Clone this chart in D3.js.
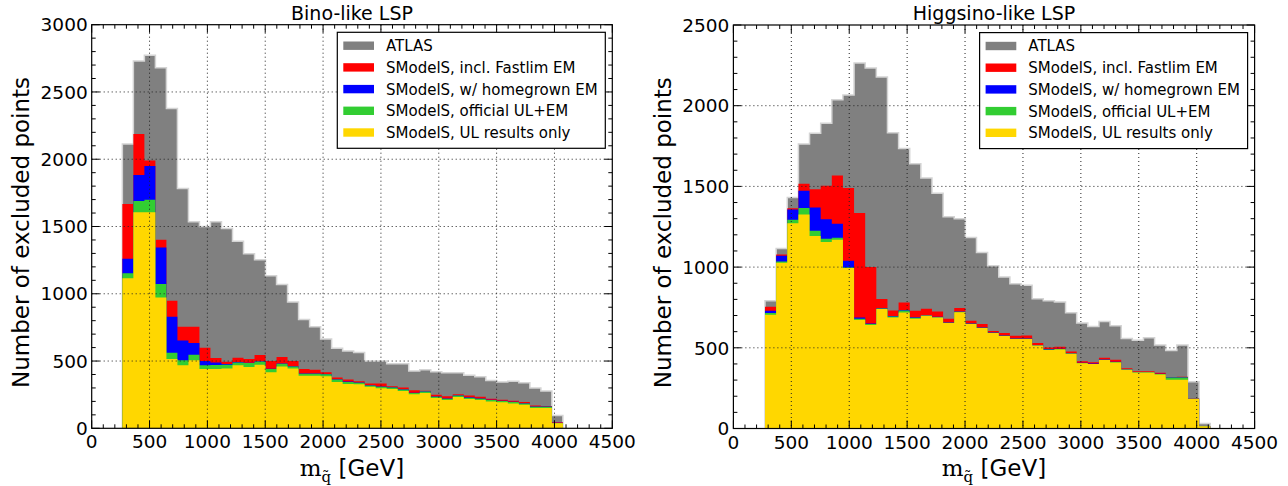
<!DOCTYPE html>
<html>
<head>
<meta charset="utf-8">
<script src="https://cdn.jsdelivr.net/npm/d3@7"></script>
<style>
  html, body { margin: 0; padding: 0; background: #fff; }
  svg { display: block; }
  text { font-family: "DejaVu Sans", sans-serif; fill: #000; }
</style>
</head>
<body>
<svg id="chart" width="1288" height="486"></svg>
<script>
// ---------------- DATA ----------------
const seriesNames = ["ATLAS", "SModelS, incl. Fastlim EM", "SModelS, w/ homegrown EM",
                     "SModelS, official UL+EM", "SModelS, UL results only"];
const xTicks = [0, 500, 1000, 1500, 2000, 2500, 3000, 3500, 4000, 4500];
const binoYTicks = [0, 500, 1000, 1500, 2000, 2500, 3000];
const higgsinoYTicks = [0, 500, 1000, 1500, 2000, 2500];

// histogram range (GeV), 40 equal bins each
const binoRange = [265, 4073];
const higgsinoRange = [273, 4117];
const nBins = 40;

// Bino-like LSP
const binoATLAS = [2114, 2730, 2772, 2680, 2378, 1782, 1535, 1500, 1535, 1485, 1391, 1297, 1252, 1134, 1069, 938, 809, 755, 663, 595,
                   575, 563, 500, 500, 480, 480, 425, 435, 420, 413, 413, 395, 383, 355, 345, 350, 338, 300, 278, 95];
const binoFastlim = [1668, 2188, 1990, 1401, 948, 755, 755, 599, 522, 495, 525, 515, 545, 500, 530, 500, 441, 436, 416, 378,
                     363, 350, 333, 333, 313, 303, 283, 280, 250, 238, 253, 243, 235, 220, 213, 205, 195, 170, 165, 45];
const binoHomegrown = [1260, 1883, 1950, 1344, 829, 653, 634, 500, 490, 478, 492, 487, 499, 443, 482, 462, 408, 408, 403, 365,
                       347, 340, 320, 310, 305, 290, 265, 275, 237, 222, 245, 230, 222, 212, 205, 197, 187, 162, 162, 42];
const binoOfficial = [1153, 1690, 1698, 1072, 562, 505, 547, 468, 470, 473, 490, 485, 497, 441, 480, 460, 406, 406, 401, 363,
                      345, 338, 318, 308, 303, 288, 263, 273, 235, 220, 243, 228, 220, 210, 203, 195, 185, 160, 160, 40];
const binoUL = [1116, 1606, 1606, 973, 515, 468, 505, 440, 440, 445, 468, 455, 473, 416, 460, 445, 391, 391, 386, 345,
                330, 328, 308, 298, 293, 278, 253, 263, 225, 210, 233, 218, 210, 200, 193, 185, 175, 150, 150, 38];

// Higgsino-like LSP
const higgsinoATLAS = [791, 1116, 1432, 1762, 1830, 1892, 2037, 2066, 2264, 2233, 2178, 1833, 1735, 1640, 1552, 1457, 1312, 1300, 1184, 1091,
                       1008, 938, 897, 888, 804, 791, 783, 717, 653, 632, 663, 636, 558, 547, 562, 517, 483, 517, 289, 31];
const higgsinoFastlim = [754, 1078, 1364, 1516, 1483, 1504, 1568, 1490, 1335, 1000, 802, 731, 781, 729, 742, 725, 680, 746, 667, 647,
                         604, 591, 574, 576, 529, 502, 506, 477, 417, 411, 438, 426, 374, 355, 355, 345, 318, 320, 188, 14];
const higgsinoHomegrown = [729, 1070, 1357, 1473, 1370, 1297, 1268, 1039, 688, 650, 745, 697, 734, 689, 702, 692, 657, 725, 651, 626,
                           595, 576, 558, 558, 517, 492, 494, 466, 408, 402, 428, 414, 367, 350, 350, 339, 317, 317, 186, 14];
const higgsinoOfficial = [715, 1035, 1293, 1366, 1225, 1176, 1182, 998, 680, 648, 743, 694, 731, 686, 700, 690, 655, 723, 649, 624,
                          593, 575, 556, 556, 515, 490, 492, 464, 406, 400, 426, 412, 366, 349, 349, 337, 316, 316, 185, 14];
const higgsinoUL = [704, 1027, 1271, 1326, 1192, 1155, 1169, 994, 673, 642, 740, 688, 719, 680, 698, 688, 653, 721, 647, 622,
                    591, 573, 554, 554, 514, 486, 490, 463, 405, 399, 424, 409, 364, 347, 347, 335, 302, 302, 184, 14];

// ---------------- STYLE / LAYOUT ----------------
const colors = ["#808080", "#ff0000", "#0000ff", "#32cd32", "#ffd700"];

const panels = [
  { title: "Bino-like LSP", range: binoRange, yMax: 3000, yTicks: binoYTicks,
    series: [binoATLAS, binoFastlim, binoHomegrown, binoOfficial, binoUL],
    left: 91.7, right: 612.3, top: 24.7, bottom: 428.3, ylabelX: 29 },
  { title: "Higgsino-like LSP", range: higgsinoRange, yMax: 2500, yTicks: higgsinoYTicks,
    series: [higgsinoATLAS, higgsinoFastlim, higgsinoHomegrown, higgsinoOfficial, higgsinoUL],
    left: 733.4, right: 1254.6, top: 25, bottom: 428.5, ylabelX: 670.5 }
];

const svg = d3.select("#chart");

panels.forEach(p => {
  const g = svg.append("g");
  const x = d3.scaleLinear().domain([0, 4500]).range([p.left, p.right]);
  const y = d3.scaleLinear().domain([0, p.yMax]).range([p.bottom, p.top]);
  const edges = d3.range(nBins + 1).map(i => p.range[0] + (p.range[1] - p.range[0]) * i / nBins);

  const clipId = "clip" + p.left.toFixed(0);
  svg.append("clipPath").attr("id", clipId).append("rect")
    .attr("x", p.left).attr("y", p.top).attr("width", p.right - p.left).attr("height", p.bottom - p.top);

  const area = d3.area()
    .curve(d3.curveStepAfter)
    .x(d => x(d.x)).y0(y(0)).y1(d => y(d.y));

  const bars = g.append("g").attr("clip-path", `url(#${clipId})`);
  p.series.forEach((vals, si) => {
    const pts = vals.map((v, i) => ({ x: edges[i], y: v }));
    pts.push({ x: edges[nBins], y: vals[nBins - 1] });
    bars.append("path")
      .attr("d", area(pts))
      .attr("fill", colors[si])
      .attr("stroke", si === 0 ? "#d4d4d4" : "none")
      .attr("stroke-width", si === 0 ? 1.5 : 0);
  });

  // grid (drawn on top, dotted)
  const grid = g.append("g");
  xTicks.slice(1, -1).forEach(t => {
    grid.append("line").attr("x1", x(t)).attr("x2", x(t)).attr("y1", p.top).attr("y2", p.bottom)
      .attr("stroke", "#222").attr("stroke-width", 1).attr("stroke-dasharray", "1,3");
  });
  p.yTicks.slice(1, -1).forEach(t => {
    grid.append("line").attr("x1", p.left).attr("x2", p.right).attr("y1", y(t)).attr("y2", y(t))
      .attr("stroke", "#222").attr("stroke-width", 1).attr("stroke-dasharray", "1,3");
  });

  // ticks inward on all sides
  const tk = g.append("g").attr("stroke", "#000").attr("stroke-width", 1);
  d3.range(0, 4501, 100).forEach(t => {
    const L = t % 500 === 0 ? 8 : 4;
    tk.append("line").attr("x1", x(t)).attr("x2", x(t)).attr("y1", p.bottom).attr("y2", p.bottom - L);
    tk.append("line").attr("x1", x(t)).attr("x2", x(t)).attr("y1", p.top).attr("y2", p.top + L);
  });
  d3.range(0, p.yMax + 1, 100).forEach(t => {
    const L = t % 500 === 0 ? 8 : 4;
    tk.append("line").attr("x1", p.left).attr("x2", p.left + L).attr("y1", y(t)).attr("y2", y(t));
    tk.append("line").attr("x1", p.right).attr("x2", p.right - L).attr("y1", y(t)).attr("y2", y(t));
  });

  // frame
  g.append("rect").attr("x", p.left).attr("y", p.top)
    .attr("width", p.right - p.left).attr("height", p.bottom - p.top)
    .attr("fill", "none").attr("stroke", "#000").attr("stroke-width", 1.2);

  // tick labels
  xTicks.forEach(t => {
    g.append("text").attr("x", x(t)).attr("y", p.bottom + 20)
      .attr("text-anchor", "middle").attr("font-size", "18.5px").text(t);
  });
  p.yTicks.forEach(t => {
    g.append("text").attr("x", p.left - 4).attr("y", y(t) + 6.7)
      .attr("text-anchor", "end").attr("font-size", "18.5px").text(t);
  });

  // title
  g.append("text").attr("x", (p.left + p.right) / 2).attr("y", 19.5)
    .attr("text-anchor", "middle").attr("font-size", "19px").text(p.title);

  // y label
  g.append("text")
    .attr("transform", `translate(${p.ylabelX},${(p.top + p.bottom) / 2 + 6}) rotate(-90)`)
    .attr("text-anchor", "middle").attr("font-size", "23px").text("Number of excluded points");

  // x label
  const xl = g.append("text").attr("x", (p.left + p.right) / 2).attr("y", 476)
    .attr("text-anchor", "middle").attr("font-size", "23px");
  xl.append("tspan").attr("font-family", "DejaVu Serif").text("m");
  xl.append("tspan").attr("font-family", "DejaVu Serif").attr("font-size", "15px").attr("dy", 6).text("q\u0303");
  xl.append("tspan").attr("dy", -6).text("\u00a0[GeV]");

  // legend
  const lw = 268, lh = 116;
  const lx = p.right - 275, ly = p.top + 7.6;
  const lg = g.append("g");
  lg.append("rect").attr("x", lx).attr("y", ly).attr("width", lw).attr("height", lh)
    .attr("fill", "#fff").attr("stroke", "#000").attr("stroke-width", 1.2);
  seriesNames.forEach((name, i) => {
    const cy = ly + 13.4 + i * 21.7;
    lg.append("rect").attr("x", lx + 6).attr("y", cy - 4.2).attr("width", 30.7).attr("height", 8.4)
      .attr("fill", colors[i]);
    lg.append("text").attr("x", lx + 48.7).attr("y", cy + 5.4).attr("font-size", "15px").text(name);
  });
});
</script>
</body>
</html>
